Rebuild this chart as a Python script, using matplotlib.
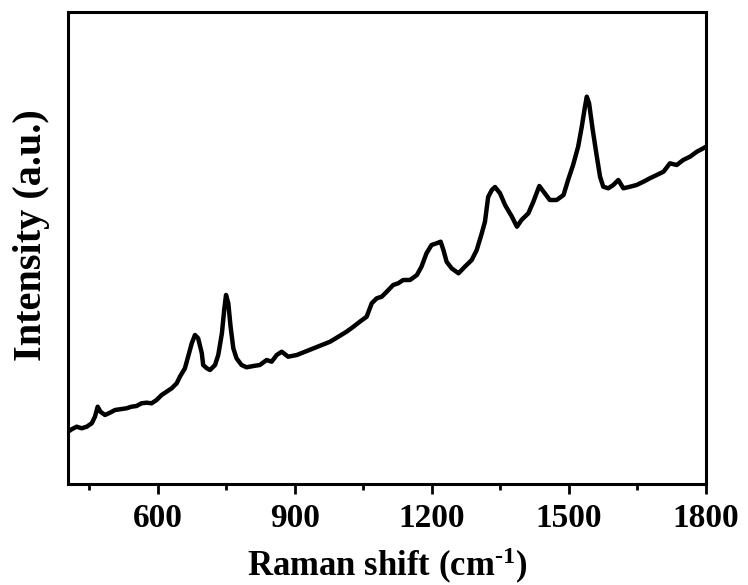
import matplotlib
matplotlib.use("Agg")
import matplotlib.pyplot as plt
from matplotlib.ticker import MultipleLocator

# Raman shift (cm^-1) and intensity (arbitrary units)
wavenumber = [403, 411, 422, 433, 444, 455, 462, 468, 474, 484, 495, 506, 517, 531, 542,
              553, 564, 575, 586, 597, 608, 619, 630, 641, 648, 659, 666, 674, 681, 688,
              696, 699, 707, 714, 725, 732, 740, 745, 749, 754, 759, 765, 772, 783, 794,
              809, 823, 838, 849, 860, 871, 885, 904, 922, 940, 958, 977, 995, 1013, 1028,
              1042, 1057, 1068, 1079, 1090, 1101, 1115, 1126, 1137, 1152, 1167, 1177, 1188,
              1199, 1210, 1219, 1225, 1232, 1243, 1258, 1272, 1287, 1298, 1309, 1316, 1323,
              1331, 1338, 1349, 1360, 1375, 1386, 1396, 1411, 1422, 1435, 1447, 1458, 1473,
              1488, 1498, 1509, 1520, 1528, 1535, 1539, 1544, 1552, 1561, 1568, 1575, 1586,
              1597, 1608, 1619, 1634, 1648, 1663, 1677, 1692, 1707, 1721, 1736, 1750, 1765,
              1780, 1794, 1800]
intensity = [52.3, 54.7, 57.3, 55.7, 57.3, 60.7, 67.3, 77.3, 72.3, 69.0, 71.3, 74.0, 74.7,
             75.7, 77.3, 78.0, 80.7, 81.3, 80.7, 84.0, 89.0, 92.3, 95.7, 100.7, 107.3, 115.7,
             127.3, 140.7, 149.0, 145.7, 130.7, 119.0, 115.7, 114.0, 119.0, 129.0, 150.7,
             174.0, 189.0, 180.7, 157.3, 135.7, 125.7, 119.0, 116.7, 118.0, 119.0, 124.0,
             122.3, 129.0, 132.3, 127.3, 129.0, 132.3, 135.7, 139.0, 142.3, 147.3, 152.3,
             157.3, 162.3, 167.3, 180.7, 185.7, 187.3, 192.3, 199.0, 200.7, 204.0, 204.0,
             209.0, 217.3, 230.7, 239.0, 240.7, 242.3, 234.0, 222.3, 215.7, 210.7, 217.3,
             224.0, 234.0, 250.7, 262.3, 287.0, 294.0, 297.0, 290.7, 279.0, 267.3, 257.3,
             264.0, 270.7, 282.3, 298.0, 290.7, 284.0, 284.0, 289.0, 304.0, 319.0, 337.3,
             357.3, 377.3, 387.3, 380.7, 354.0, 327.3, 307.3, 297.3, 295.7, 299.0, 304.0,
             295.7, 297.3, 299.0, 302.3, 305.7, 309.0, 312.3, 320.7, 319.0, 324.0, 327.3,
             332.3, 335.7, 337.3]

x_ticks = [600, 900, 1200, 1500, 1800]
x_label = "Raman shift (cm$^{\\text{-1}}$)"
y_label = "Intensity (a.u.)"

plt.rcParams.update({
    "font.family": ["Liberation Serif", "DejaVu Serif"],
    "font.weight": "bold",
    "mathtext.fontset": "custom",
    "mathtext.rm": "Liberation Serif:bold",
    "mathtext.bf": "Liberation Serif:bold",
    "mathtext.it": "Liberation Serif:bold",
})

fig = plt.figure(figsize=(7.48, 5.85), dpi=100)
ax = fig.add_axes([68 / 748, 101 / 585, (706 - 68) / 748, (484 - 12) / 585])

ax.plot(wavenumber, intensity, color="black", lw=3.2, solid_joinstyle="round",
        solid_capstyle="round")

ax.set_xlim(403, 1800)
ax.set_ylim(0, 472)
ax.set_xticks(x_ticks)
ax.xaxis.set_minor_locator(MultipleLocator(150))
ax.set_yticks([])

for s in ax.spines.values():
    s.set_linewidth(2.2)

ax.tick_params(axis="x", which="major", direction="out", length=7, width=2,
               labelsize=24, pad=7)
ax.tick_params(axis="x", which="minor", direction="out", length=4, width=2)
for lab in ax.get_xticklabels():
    lab.set_fontweight("bold")

ax.set_xlabel(x_label, fontsize=25, fontweight="bold", labelpad=8)
ax.set_ylabel(y_label, fontsize=29, fontweight="bold")
ax.yaxis.set_label_coords(-0.028, 0.527)

fig.savefig("out.png", dpi=100)
